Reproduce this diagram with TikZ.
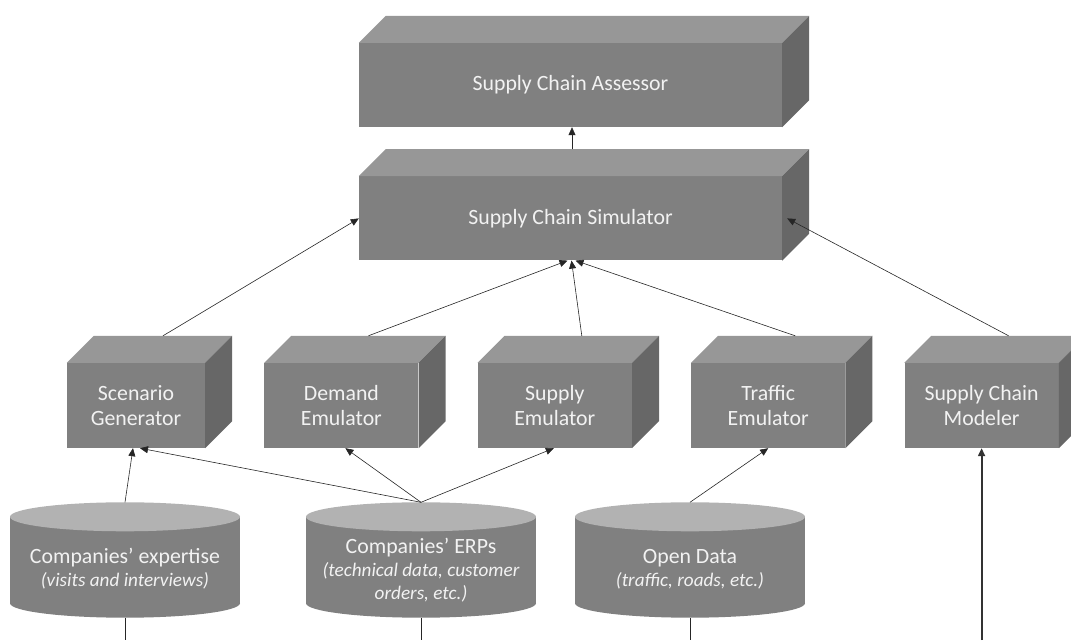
\documentclass[tikz,border=0pt]{standalone}
\usepackage{fontspec}
\setmainfont{Carlito}
\usetikzlibrary{positioning,arrows.meta}
\definecolor{cubefront}{HTML}{808080}
\definecolor{cubetop}{HTML}{979797}
\definecolor{cubeside}{HTML}{676767}
\definecolor{dbbody}{HTML}{808080}
\definecolor{dbtop}{HTML}{B2B2B2}
\definecolor{boxtext}{HTML}{F2F2F2}
\definecolor{wirecol}{HTML}{262626}
\newcommand{\dbnote}[1]{{\fontsize{19.2}{23}\selectfont\itshape #1}}

\begin{document}
\begin{tikzpicture}[%
        x=1pt, y=1pt,
        ->,
        >={Triangle[length=8pt,width=7pt]},
        wire/.style={draw=wirecol, line width=0.6pt},
        feed/.style={draw=black!80, line width=2pt},
        cubebox/.style={%
          rectangle,
          fill=cubefront,
          text=boxtext,
          inner sep=0pt,
          minimum width=154pt,
          minimum height=85pt,
          align=center,
          font=\fontsize{21.8}{25}\selectfont
        },
        bigcube/.style={cubebox, minimum width=423pt, minimum height=84pt},
        datastore/.style={%
          rectangle,
          fill=dbbody,
          inner sep=0pt,
          minimum width=230pt,
          minimum height=86pt
        },
        dbtext/.style={%
          text=boxtext,
          inner sep=0pt,
          align=center,
          font=\fontsize{21.8}{23}\selectfont
        }
      ]
      \useasboundingbox (0,0) rectangle (1071,640);
      \clip (0,0) rectangle (1071,640);

      \node[bigcube] (assessor) at (570.5,555) {Supply Chain Assessor};
      \node[bigcube] (simulator) [below=49pt of assessor] {Supply Chain Simulator};
      \node[cubebox, minimum width=138pt] (scenario) at (136,234.5) {Scenario\\Generator};
      \node[cubebox] (demand) [right=59pt of scenario] {Demand\\Emulator};
      \node[cubebox] (supply) [right=59pt of demand] {Supply\\Emulator};
      \node[cubebox] (traffic) [right=59pt of supply] {Traffic\\Emulator};
      \node[cubebox] (modeler) [right=59pt of traffic] {Supply Chain\\Modeler};

      \node[datastore] (expertise) at (125,80) {};
      \node[datastore] (erp) at (421,80) {};
      \node[datastore] (opendata) at (690,80) {};

      % top and side faces of the boxes
      \foreach \n in {assessor,simulator,scenario,demand,supply,traffic,modeler}{
        \fill[cubetop] (\n.north west) -- ++(27,27) -- ([shift={(27,27)}]\n.north east) -- (\n.north east) -- cycle;
        \fill[cubeside] (\n.north east) -- ++(27,27) -- ([shift={(27,27)}]\n.south east) -- (\n.south east) -- cycle;
      }
      % ends of the data stores
      \foreach \n in {expertise,erp,opendata}{
        \fill[dbbody] (\n.south) ellipse [x radius=115, y radius=14.5];
        \fill[dbtop] (\n.north) ellipse [x radius=115, y radius=14.5];
      }

      \node[dbtext] (expertisetext) at ([yshift=-9pt]expertise.center) {Companies’ expertise\\\dbnote{(visits and interviews)}};
      \node[dbtext] (erptext) at ([yshift=-10pt]erp.center) {Companies’ ERPs\\\dbnote{(technical data, customer}\\\dbnote{orders, etc.)}};
      \node[dbtext] (opendatatext) at ([yshift=-9.5pt]opendata.center) {Open Data\\\dbnote{(traffic, roads, etc.)}};

      \coordinate (floor) at (0,0);

      \path ([shift={(1.5,27)}]simulator.north) edge[wire] ([xshift=1.5pt]assessor.south)
      ([shift={(27,27)}]scenario.north) edge[wire] (simulator.west)
      ([shift={(27,27)}]demand.north) edge[wire] ([xshift=-3pt]simulator.south)
      ([shift={(27,27)}]supply.north) edge[wire] ([xshift=1pt]simulator.south)
      ([shift={(27,27)}]traffic.north) edge[wire] ([xshift=5pt]simulator.south)
      ([shift={(27,27)}]modeler.north) edge[wire] ([xshift=5pt]simulator.east)
      ([yshift=14.5pt]expertise.north) edge[wire] ([xshift=-3pt]scenario.south)
      ([yshift=14.5pt]erp.north) edge[wire] ([xshift=4pt]scenario.south)
      ([yshift=14.5pt]erp.north) edge[wire] ([xshift=4pt]demand.south)
      ([yshift=14.5pt]erp.north) edge[wire] ([xshift=-1pt]supply.south)
      ([yshift=14.5pt]opendata.north) edge[wire] (traffic.south);

      \path ([yshift=-14.5pt]expertise.south) edge[wire, -] (expertise.south |- floor)
      ([yshift=-14.5pt]erp.south) edge[wire, -] (erp.south |- floor)
      ([yshift=-14.5pt]opendata.south) edge[wire, -] (opendata.south |- floor);

      \draw[feed] (modeler.south |- floor) -- (modeler.south);
  \end{tikzpicture}
\end{document}
